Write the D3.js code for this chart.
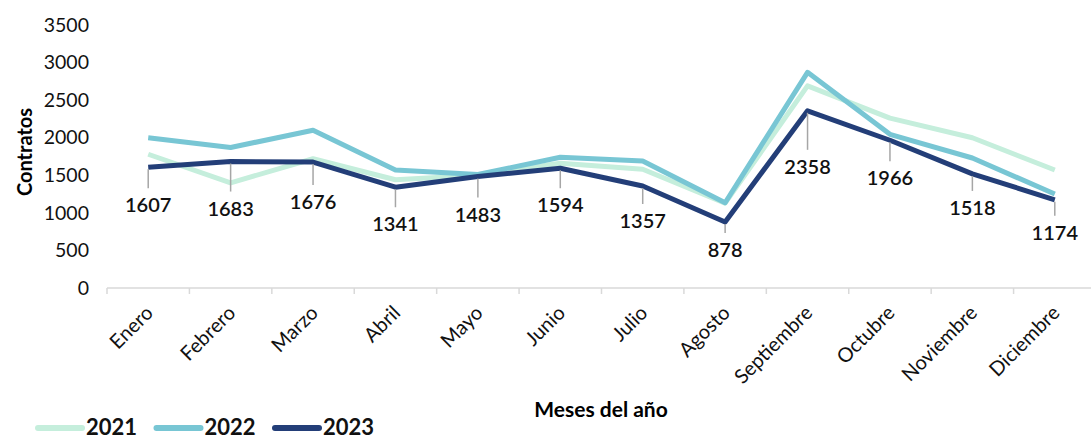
<!DOCTYPE html>
<html>
<head>
<meta charset="utf-8">
<script src="https://cdn.jsdelivr.net/npm/d3@7"></script>
<style>
  body { margin: 0; background: #fff; }
  svg { font-family: Lato, "Open Sans", sans-serif; }
</style>
</head>
<body>
<div id="chart"></div>
<script>
// data
const months = ["Enero", "Febrero", "Marzo", "Abril", "Mayo", "Junio", "Julio", "Agosto", "Septiembre", "Octubre", "Noviembre", "Diciembre"]
const years = ["2021", "2022", "2023"]
const v2021 = [1780, 1400, 1720, 1440, 1500, 1660, 1580, 1130, 2690, 2260, 2000, 1570]
const v2022 = [2000, 1870, 2100, 1570, 1510, 1740, 1690, 1135, 2870, 2045, 1730, 1250]
const v2023 = [1607, 1683, 1676, 1341, 1483, 1594, 1357, 878, 2358, 1966, 1518, 1174]
const yTicks = [0, 500, 1000, 1500, 2000, 2500, 3000, 3500]

// layout
const W = 1091, H = 440
const colors = { "2021": "#c5eedc", "2022": "#78c6d4", "2023": "#233e78" }
const labelDy = [38, 47, 40, 37, 38, 37, 35, 28, 56, 38, 34, 33] // label drop below each 2023 point

const svg = d3.select("#chart").append("svg")
    .attr("width", W)
    .attr("height", H)

const x = d3.scaleBand()
    .domain(months)
    .range([107, 1096])
    .padding(0)

const y = d3.scaleLinear()
    .domain([0, 3500])
    .range([288, 25])

const cx = d => x(d) + x.bandwidth() / 2

// x axis line + boundary ticks
svg.append("line")
    .attr("x1", x.range()[0]).attr("x2", x.range()[1])
    .attr("y1", y(0)).attr("y2", y(0))
    .attr("stroke", "#d9d9d9").attr("stroke-width", 1.5)

svg.selectAll(".btick")
    .data(months.map(m => x(m)).concat([x.range()[1]]))
    .enter().append("line")
    .attr("class", "btick")
    .attr("x1", d => d).attr("x2", d => d)
    .attr("y1", y(0)).attr("y2", y(0) + 6)
    .attr("stroke", "#d9d9d9").attr("stroke-width", 1.5)

// month labels
const xAxis = d3.axisBottom(x).tickSize(0).tickSizeOuter(0)
const gx = svg.append("g")
    .attr("transform", "translate(0," + y(0) + ")")
    .call(xAxis)
gx.select(".domain").remove()
gx.selectAll("text")
    .style("font-size", "20px")
    .style("font-family", "Lato")
    .attr("fill", "#111")
    .style("text-anchor", "end")
    .attr("dx", "0")
    .attr("dy", "0")
    .attr("transform", "translate(4,24) rotate(-45)")

// y axis
const yAxis = d3.axisLeft(y).tickValues(yTicks).tickFormat(d3.format("d")).tickSize(0).tickPadding(0)
const gy = svg.append("g")
    .attr("transform", "translate(89,0)")
    .call(yAxis)
gy.select(".domain").remove()
gy.selectAll("text")
    .style("font-size", "19.5px")
    .style("font-family", "Lato")
    .attr("fill", "#111")

// axis titles
svg.append("text")
    .attr("transform", "translate(32,152) rotate(-90)")
    .attr("text-anchor", "middle")
    .style("font-size", "20px").style("font-weight", "bold")
    .text("Contratos")

svg.append("text")
    .attr("x", 601).attr("y", 417)
    .attr("text-anchor", "middle")
    .style("font-size", "21px").style("font-weight", "bold")
    .text("Meses del año")

// lines
const series = [
    { year: "2021", values: v2021 },
    { year: "2022", values: v2022 },
    { year: "2023", values: v2023 }
]

const line = d3.line()
    .x((d, i) => cx(months[i]))
    .y(d => y(d))

svg.selectAll(".series")
    .data(series)
    .enter().append("path")
    .attr("class", "series")
    .attr("d", d => line(d.values))
    .attr("fill", "none")
    .attr("stroke", d => colors[d.year])
    .attr("stroke-width", 5)
    .attr("stroke-linejoin", "round")

// 2023 labels with leader lines
svg.selectAll(".leader")
    .data(v2023)
    .enter().append("line")
    .attr("class", "leader")
    .attr("x1", (d, i) => cx(months[i])).attr("x2", (d, i) => cx(months[i]))
    .attr("y1", d => y(d) + 2)
    .attr("y2", (d, i) => y(d) + labelDy[i] - 17)
    .attr("stroke", "#a6a6a6").attr("stroke-width", 1.5)

svg.selectAll(".dlabel")
    .data(v2023)
    .enter().append("text")
    .attr("class", "dlabel")
    .attr("x", (d, i) => cx(months[i]))
    .attr("y", (d, i) => y(d) + labelDy[i] + 7)
    .attr("text-anchor", "middle")
    .style("font-size", "20px").style("font-weight", 600)
    .attr("fill", "#111")
    .text(d => d)

// legend
const legend = svg.selectAll(".legend")
    .data(years)
    .enter().append("g")
    .attr("class", "legend")
    .attr("transform", (d, i) => "translate(" + (38 + i * 118.5) + ",428)")

legend.append("line")
    .attr("x1", 0).attr("x2", 44)
    .attr("stroke", d => colors[d])
    .attr("stroke-width", 6)
    .attr("stroke-linecap", "round")

legend.append("text")
    .attr("x", 48).attr("y", 7)
    .style("font-size", "22px").style("font-weight", "bold")
    .attr("fill", "#111")
    .text(d => d)
</script>
</body>
</html>
